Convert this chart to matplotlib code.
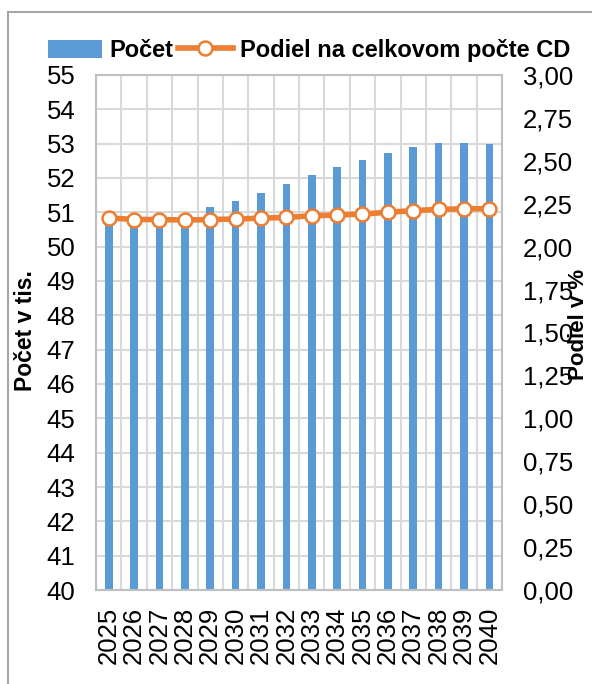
import numpy as np
import matplotlib.pyplot as plt
from matplotlib.lines import Line2D
from matplotlib.patches import Patch

plt.rcParams['font.family'] = ['Liberation Sans', 'DejaVu Sans']

# data
years = [str(y) for y in range(2025, 2041)]
pocet = [50.90, 50.85, 50.85, 50.85, 51.15, 51.34, 51.55, 51.82,
         52.08, 52.32, 52.52, 52.74, 52.90, 53.01, 53.03, 52.98]
podiel = [2.168, 2.158, 2.158, 2.155, 2.158, 2.161, 2.166, 2.170,
          2.180, 2.184, 2.190, 2.200, 2.210, 2.217, 2.220, 2.222]
left_ticks = list(range(40, 56))
right_ticks = [i * 0.25 for i in range(13)]

blue = '#5b9bd5'
orange = '#ed7d31'
grid_c = '#d9d9d9'

fig = plt.figure(figsize=(5.92, 6.84), dpi=100)
ax = fig.add_axes([0.1622, 0.1374, 0.6858, 0.753])
x = np.arange(len(years))

ax.bar(x, [v - 40 for v in pocet], bottom=40, width=0.3, color=blue, zorder=2)
ax.set_xlim(-0.5, len(years) - 0.5)
ax.set_ylim(40, 55)
ax.set_yticks(left_ticks)
ax.set_yticklabels([str(t) for t in left_ticks], fontsize=18.5)
ax.set_xticks(x)
ax.set_xticklabels(years, rotation=90, fontsize=18.5)
ax.tick_params(axis='y', length=0, pad=15)
ax.tick_params(axis='x', length=0, pad=12)
ax.set_xticks(np.arange(-0.5, len(years)), minor=True)
ax.tick_params(which='minor', length=0)
ax.grid(True, axis='y', color=grid_c, linewidth=1.5, zorder=0)
ax.grid(True, axis='x', which='minor', color=grid_c, linewidth=1.5, zorder=0)
for s in ax.spines.values():
    s.set_color('#bfbfbf')
    s.set_linewidth(1.5)
ax.set_ylabel('Počet v tis.', fontsize=16.5, fontweight='bold')
ax.yaxis.set_label_coords(-0.145, 0.503)

ax2 = ax.twinx()
ax2.plot(x, podiel, color=orange, linewidth=4, marker='o', markersize=10,
         markerfacecolor='white', markeredgecolor=orange, markeredgewidth=1.8, zorder=3)
ax2.set_ylim(0, 3)
ax2.set_yticks(right_ticks)
ax2.set_yticklabels([f'{t:.2f}'.replace('.', ',') for t in right_ticks], fontsize=18.5)
ax2.tick_params(axis='y', length=0, pad=15)
for s in ax2.spines.values():
    s.set_visible(False)
ax2.set_ylabel('Podiel v %', fontsize=16, fontweight='bold', rotation=90)
ax2.yaxis.set_label_coords(1.163, 0.515)

handles = [Patch(facecolor=blue),
           Line2D([0], [0], color=orange, linewidth=4, marker='o', markersize=10,
                  markerfacecolor='white', markeredgecolor=orange, markeredgewidth=1.8)]
fig.legend(handles, ['Počet', 'Podiel na celkovom počte CD'], loc='center',
           bbox_to_anchor=(0.522, 0.926), ncol=2, frameon=False,
           prop={'size': 17, 'weight': 'bold'}, handlelength=2.3, handleheight=0.8,
           handletextpad=0.3, columnspacing=0.2)

# outer chart frame
fig.add_artist(Line2D([0.0135, 0.0135], [0, 0.9825], color='#a6a6a6', linewidth=1.5))
fig.add_artist(Line2D([0.0135, 1], [0.9825, 0.9825], color='#a6a6a6', linewidth=1.5))

fig.savefig('out.png', dpi=100)
